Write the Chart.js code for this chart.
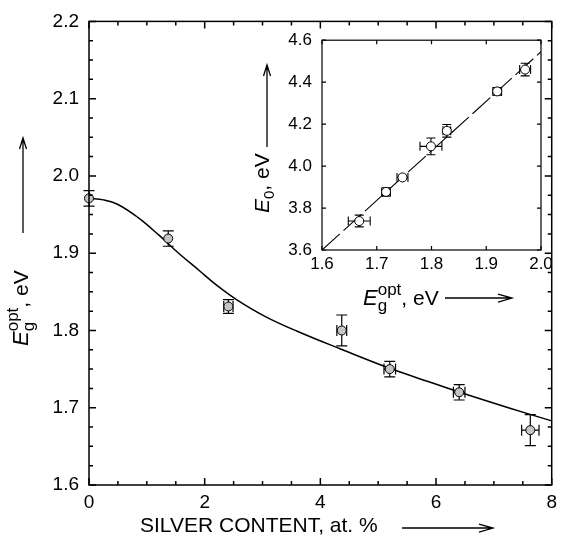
<!DOCTYPE html>
<html>
<head>
<meta charset="utf-8">
<script src="https://cdn.jsdelivr.net/npm/chart.js@4.4.1/dist/chart.umd.min.js"></script>
<style>
  body { margin: 0; background: #fff; }
  #wrap { position: relative; width: 563px; height: 552px; }
  canvas { position: absolute; }
</style>
</head>
<body>
<div id="wrap">
  <canvas id="main" width="563" height="552" style="left:0;top:0"></canvas>
  <canvas id="inset" width="323" height="300" style="left:240px;top:20px"></canvas>
</div>
<script>
var FONT = '"Liberation Sans", Arial, Helvetica, sans-serif';

// main panel: optical gap vs silver content
var silver = [0, 1.37, 2.41, 4.37, 5.2, 6.4, 7.63];
var gap = [1.971, 1.919, 1.831, 1.800, 1.750, 1.720, 1.671];
var gapErr = [0.01, 0.01, 0.009, 0.02, 0.01, 0.01, 0.02];
var silverErr = [0, 0, 0.08, 0.085, 0.1, 0.1, 0.15];
// fitted curve
var fitX = [0, 0.25, 0.5, 0.85, 1.2, 1.55, 1.9, 2.2, 2.55, 3.05, 3.6, 4.35, 5.2, 5.9, 6.45, 7.25, 8.0];
var fitY = [1.971, 1.969, 1.963, 1.946, 1.924, 1.900, 1.878, 1.859, 1.840, 1.818, 1.799, 1.776, 1.751, 1.733, 1.719, 1.700, 1.683];
var silverTicks = [0, 2, 4, 6, 8];
var gapTicks = [1.6, 1.7, 1.8, 1.9, 2.0, 2.1, 2.2];

// inset: E0 vs optical gap
var insetGap = [1.668, 1.717, 1.747, 1.799, 1.828, 1.92, 1.971];
var insetE0 = [3.738, 3.877, 3.946, 4.094, 4.168, 4.356, 4.46];
var insetGapErr = [0.02, 0.008, 0.01, 0.02, 0.007, 0.008, 0.01];
var insetE0Err = [0.028, 0.02, 0.01, 0.04, 0.03, 0.018, 0.03];
var lineX = [1.6, 2.0];
var lineY = [3.6, 4.545];
var insetGapTicks = [1.6, 1.7, 1.8, 1.9, 2.0];
var insetE0Ticks = [3.6, 3.8, 4.0, 4.2, 4.4, 4.6];

function pts(xs, ys) {
  return xs.map(function (x, i) { return { x: x, y: ys[i] }; });
}

function drawArrow(ctx, x1, y1, x2, y2, len, half) {
  var ang = Math.atan2(y2 - y1, x2 - x1);
  ctx.save();
  ctx.strokeStyle = '#000';
  ctx.lineWidth = 1.3;
  ctx.beginPath();
  ctx.moveTo(x1, y1); ctx.lineTo(x2, y2);
  ctx.translate(x2, y2); ctx.rotate(ang);
  ctx.moveTo(-len, -half); ctx.lineTo(0, 0); ctx.lineTo(-len, half);
  ctx.stroke();
  ctx.restore();
}

// text made of pieces: italic letters, raised / lowered indices
function richText(ctx, x, y, parts, angle) {
  ctx.save();
  ctx.translate(x, y);
  if (angle) ctx.rotate(angle);
  ctx.fillStyle = '#000';
  ctx.textBaseline = 'alphabetic';
  ctx.textAlign = 'left';
  var cx = 0, held = 0;
  parts.forEach(function (p) {
    ctx.font = (p.italic ? 'italic ' : '') + p.size + 'px ' + FONT;
    ctx.fillText(p.t, cx, p.dy || 0);
    var w = ctx.measureText(p.t).width;
    if (p.hold) { held = w; return; }
    cx += Math.max(w, held);
    held = 0;
  });
  ctx.restore();
}

var errorBars = {
  id: 'errorBars',
  beforeDatasetsDraw: function (chart, args, o) {
    var ctx = chart.ctx, sx = chart.scales.x, sy = chart.scales.y;
    ctx.save();
    ctx.strokeStyle = '#000';
    ctx.lineWidth = o.width;
    ctx.beginPath();
    o.x.forEach(function (xv, i) {
      var px = sx.getPixelForValue(xv), py = sy.getPixelForValue(o.y[i]);
      if (o.yerr[i]) {
        var t = sy.getPixelForValue(o.y[i] + o.yerr[i]), b = sy.getPixelForValue(o.y[i] - o.yerr[i]);
        ctx.moveTo(px, t); ctx.lineTo(px, b);
        ctx.moveTo(px - o.cap, t); ctx.lineTo(px + o.cap, t);
        ctx.moveTo(px - o.cap, b); ctx.lineTo(px + o.cap, b);
      }
      if (o.xerr[i]) {
        var l = sx.getPixelForValue(xv - o.xerr[i]), r = sx.getPixelForValue(xv + o.xerr[i]);
        ctx.moveTo(l, py); ctx.lineTo(r, py);
        ctx.moveTo(l, py - o.cap); ctx.lineTo(l, py + o.cap);
        ctx.moveTo(r, py - o.cap); ctx.lineTo(r, py + o.cap);
      }
    });
    ctx.stroke();
    ctx.restore();
  }
};

// box with inward ticks on all four sides
var frame = {
  id: 'frame',
  afterDatasetsDraw: function (chart, args, o) {
    var a = chart.chartArea, ctx = chart.ctx, sx = chart.scales.x, sy = chart.scales.y;
    ctx.save();
    ctx.strokeStyle = '#000';
    ctx.lineWidth = o.width;
    ctx.strokeRect(a.left, a.top, a.right - a.left, a.bottom - a.top);
    ctx.beginPath();
    var n, k, v, p, len;
    n = Math.round((sx.max - sx.min) / o.xMinor);
    for (k = 0; k <= n; k++) {
      v = sx.min + k * o.xMinor;
      len = (k % o.xEvery === 0) ? o.majorLen : o.minorLen;
      p = sx.getPixelForValue(v);
      ctx.moveTo(p, a.bottom); ctx.lineTo(p, a.bottom - len);
      ctx.moveTo(p, a.top); ctx.lineTo(p, a.top + len);
    }
    n = Math.round((sy.max - sy.min) / o.yMinor);
    for (k = 0; k <= n; k++) {
      v = sy.min + k * o.yMinor;
      len = (k % o.yEvery === 0) ? o.majorLen : o.minorLen;
      p = sy.getPixelForValue(v);
      ctx.moveTo(a.left, p); ctx.lineTo(a.left + len, p);
      ctx.moveTo(a.right, p); ctx.lineTo(a.right - len, p);
    }
    ctx.stroke();
    ctx.restore();
  }
};

var mainLabels = {
  id: 'mainLabels',
  afterDraw: function (chart) {
    var ctx = chart.ctx;
    richText(ctx, 140, 532, [{ t: 'SILVER CONTENT, at. %', size: 21 }]);
    drawArrow(ctx, 402, 528, 493, 528, 14, 4);
    richText(ctx, 28, 346, [
      { t: 'E', italic: true, size: 22 },
      { t: 'opt', size: 17, dy: -10, hold: true },
      { t: 'g', size: 17, dy: 6 },
      { t: ', eV', size: 21 }
    ], -Math.PI / 2);
    drawArrow(ctx, 23, 233, 23, 138, 11, 3.5);
  }
};

var insetLabels = {
  id: 'insetLabels',
  afterDraw: function (chart) {
    var ctx = chart.ctx;
    // canvas sits at (240, 20) on the page
    richText(ctx, 363 - 240, 305 - 20, [
      { t: 'E', italic: true, size: 22 },
      { t: 'opt', size: 17, dy: -10, hold: true },
      { t: 'g', size: 17, dy: 6 },
      { t: ', eV', size: 21 }
    ]);
    drawArrow(ctx, 445 - 240, 298 - 20, 512 - 240, 298 - 20, 14, 4);
    richText(ctx, 269 - 240, 213 - 20, [
      { t: 'E', italic: true, size: 21 },
      { t: '0', size: 15, dy: 5 },
      { t: ', eV', size: 21 }
    ], -Math.PI / 2);
    drawArrow(ctx, 267 - 240, 147 - 20, 267 - 240, 65 - 20, 11, 3.5);
  }
};

function axis(min, max, ticks, size, pad, dec, fitKey, fitVal) {
  var s = {
    type: 'linear', min: min, max: max,
    grid: { display: false, drawTicks: false },
    border: { display: false },
    afterBuildTicks: function (sc) { sc.ticks = ticks.map(function (v) { return { value: v }; }); },
    ticks: {
      color: '#000', padding: pad,
      font: { family: FONT, size: size },
      callback: function (v) { return dec ? v.toFixed(dec) : String(v); }
    }
  };
  s.afterFit = function (sc) { sc[fitKey] = fitVal; };
  return s;
}

Chart.defaults.animation = false;

new Chart(document.getElementById('main'), {
  type: 'scatter',
  data: {
    datasets: [
      {
        data: pts(silver, gap), clip: false,
        pointRadius: 4.5, pointBackgroundColor: '#c4c4c4',
        pointBorderColor: '#000', pointBorderWidth: 1
      },
      {
        data: pts(fitX, fitY), showLine: true, pointRadius: 0,
        borderColor: '#000', borderWidth: 1.5, tension: 0.4
      }
    ]
  },
  options: {
    responsive: false, devicePixelRatio: 1, events: [],
    layout: { padding: { top: 19, right: 5, left: 0, bottom: 0 } },
    plugins: {
      legend: { display: false }, tooltip: { enabled: false },
      errorBars: { x: silver, y: gap, xerr: silverErr, yerr: gapErr, cap: 5.5, width: 1.2 },
      frame: { width: 1.5, xMinor: 0.5, xEvery: 4, yMinor: 0.025, yEvery: 4, majorLen: 7, minorLen: 4 }
    },
    scales: {
      x: axis(0, 8, silverTicks, 19, 6, 0, 'height', 67),
      y: axis(1.6, 2.2, gapTicks, 19, 10, 1, 'width', 89)
    }
  },
  plugins: [errorBars, frame, mainLabels]
});

new Chart(document.getElementById('inset'), {
  type: 'scatter',
  data: {
    datasets: [
      {
        data: pts(insetGap, insetE0), clip: false,
        pointRadius: 4.5, pointBackgroundColor: '#fff',
        pointBorderColor: '#000', pointBorderWidth: 1
      },
      {
        data: pts(lineX, lineY), showLine: true, pointRadius: 0,
        borderColor: '#000', borderWidth: 1.1, borderDash: [24, 5]
      }
    ]
  },
  options: {
    responsive: false, devicePixelRatio: 1, events: [],
    layout: { padding: { top: 13, right: 22, left: 0, bottom: 0 } },
    plugins: {
      legend: { display: false }, tooltip: { enabled: false },
      errorBars: { x: insetGap, y: insetE0, xerr: insetGapErr, yerr: insetE0Err, cap: 4.5, width: 1.1 },
      frame: { width: 1.2, xMinor: 0.1, xEvery: 1, yMinor: 0.2, yEvery: 1, majorLen: 4, minorLen: 4 }
    },
    scales: {
      x: axis(1.6, 2.0, insetGapTicks, 17, 4, 1, 'height', 70),
      y: axis(3.6, 4.6, insetE0Ticks, 17, 10, 1, 'width', 82)
    }
  },
  plugins: [errorBars, frame, insetLabels]
});
</script>
</body>
</html>
